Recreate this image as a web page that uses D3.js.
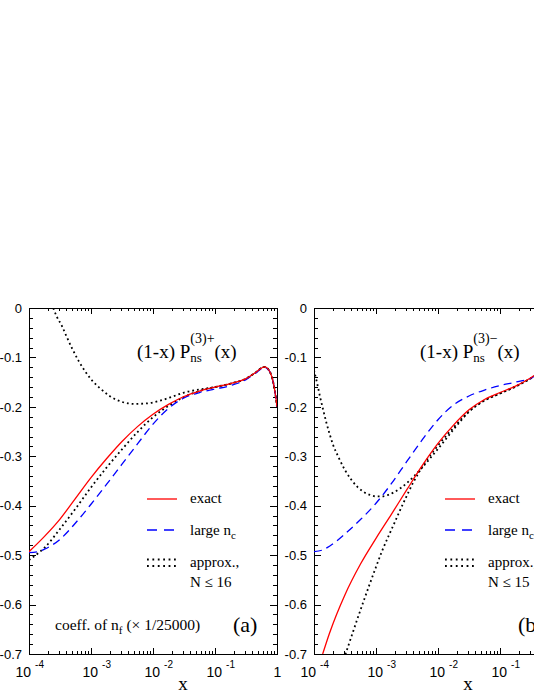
<!DOCTYPE html>
<html>
<head>
<meta charset="utf-8">
<script src="https://cdn.jsdelivr.net/npm/d3@7"></script>
<style>
  body { margin: 0; background: #fff; }
  svg { display: block; font-family: "Liberation Serif", "Times New Roman", serif; }
</style>
</head>
<body>
<div id="chart"></div>
<script>
// values; x given as log10(x)

// panel (a): P_ns^(3)+
const aExactLx = [-4, -3.75, -3.5, -3.25, -3, -2.75, -2.5, -2.25, -2, -1.75, -1.5, -1.25, -1, -0.75, -0.5, -0.35, -0.2, -0.12, -0.06, -0.02, 0];
const aExact   = [-0.493, -0.462, -0.427, -0.385, -0.343, -0.305, -0.27, -0.24, -0.215, -0.195, -0.179, -0.168, -0.16, -0.153, -0.143, -0.131, -0.119, -0.128, -0.151, -0.18, -0.2];
const aLargeLx = [-4, -3.85, -3.75, -3.5, -3.25, -3, -2.75, -2.5, -2.25, -2, -1.75, -1.5, -1.25, -1, -0.75, -0.5, -0.35, -0.2, -0.12, -0.06, -0.02, 0];
const aLarge   = [-0.495, -0.493, -0.488, -0.468, -0.435, -0.397, -0.357, -0.316, -0.275, -0.235, -0.203, -0.182, -0.171, -0.164, -0.157, -0.145, -0.132, -0.12, -0.128, -0.151, -0.18, -0.2];
const aApproxUpLx = [-3.61, -3.55, -3.47, -3.4, -3.3, -3.2, -3.1, -3, -2.85, -2.7, -2.5, -2.3, -2.1, -1.9, -1.7, -1.5, -1.25, -1, -0.75, -0.5, -0.35, -0.2, -0.12, -0.06, -0.02, 0];
const aApproxUp   = [0, -0.018, -0.036, -0.056, -0.083, -0.107, -0.127, -0.144, -0.163, -0.178, -0.19, -0.194, -0.193, -0.188, -0.18, -0.171, -0.165, -0.16, -0.153, -0.143, -0.131, -0.119, -0.128, -0.151, -0.18, -0.2];
const aApproxLoLx = [-4, -3.85, -3.75, -3.5, -3.25, -3, -2.75, -2.5, -2.25, -2, -1.75, -1.5, -1.25, -1, -0.75, -0.5, -0.35, -0.2, -0.12, -0.06, -0.02, 0];
const aApproxLo   = [-0.51, -0.496, -0.485, -0.447, -0.406, -0.363, -0.323, -0.286, -0.251, -0.221, -0.198, -0.18, -0.168, -0.16, -0.153, -0.143, -0.131, -0.119, -0.128, -0.151, -0.18, -0.2];

// panel (b): P_ns^(3)-
const bExactLx = [-3.86, -3.75, -3.5, -3.25, -3, -2.75, -2.5, -2.25, -2, -1.75, -1.5, -1.25, -1, -0.75, -0.5, -0.3];
const bExact   = [-0.7, -0.658, -0.58, -0.518, -0.466, -0.417, -0.367, -0.318, -0.274, -0.237, -0.206, -0.185, -0.171, -0.158, -0.141, -0.125];
const bLargeLx = [-4, -3.85, -3.75, -3.5, -3.25, -3, -2.75, -2.5, -2.25, -2, -1.75, -1.5, -1.25, -1, -0.75, -0.5, -0.3];
const bLarge   = [-0.493, -0.489, -0.482, -0.457, -0.428, -0.395, -0.355, -0.31, -0.266, -0.226, -0.196, -0.178, -0.166, -0.157, -0.15, -0.142, -0.126];
const bApproxUpLx = [-4, -3.95, -3.9, -3.85, -3.8, -3.75, -3.7, -3.6, -3.5, -3.4, -3.3, -3.2, -3.1, -3, -2.9, -2.8, -2.7, -2.6, -2.5, -2.4, -2.3, -2.2, -2.1, -2, -1.75, -1.5, -1.25, -1, -0.75, -0.5, -0.3];
const bApproxUp   = [-0.126, -0.152, -0.181, -0.207, -0.232, -0.254, -0.274, -0.303, -0.328, -0.347, -0.362, -0.372, -0.378, -0.381, -0.381, -0.378, -0.372, -0.364, -0.354, -0.342, -0.329, -0.315, -0.3, -0.285, -0.246, -0.21, -0.187, -0.173, -0.159, -0.142, -0.126];
const bApproxLoLx = [-3.52, -3.5, -3.4, -3.3, -3.2, -3.1, -3, -2.9, -2.8, -2.7, -2.6, -2.5, -2.4, -2.3, -2.2, -2.1, -2, -1.75, -1.5, -1.25, -1, -0.75, -0.5, -0.3];
const bApproxLo   = [-0.71, -0.703, -0.666, -0.629, -0.593, -0.558, -0.524, -0.491, -0.462, -0.434, -0.406, -0.379, -0.353, -0.331, -0.311, -0.294, -0.278, -0.242, -0.209, -0.187, -0.173, -0.159, -0.142, -0.126];

const xMajor = [1e-4, 1e-3, 1e-2, 1e-1, 1];
const xMajorExp = ["-4", "-3", "-2", "-1", null];
const yMajor = [0, -0.1, -0.2, -0.3, -0.4, -0.5, -0.6, -0.7];

const width = 534, height = 692;
const panelW = 248, plotTop = 308, plotBottom = 654;

const svg = d3.select("#chart").append("svg")
  .attr("width", width)
  .attr("height", height);

const zip = (lx, v) => lx.map((d, i) => [d, v[i]]);

const drawPanel = (opt) => {
  const left = opt.left;
  const x = d3.scaleLog().domain([1e-4, 1]).range([left, left + panelW]);
  const y = d3.scaleLinear().domain([-0.7, 0]).range([plotBottom, plotTop]);

  const g = svg.append("g");

  // minor ticks
  const xMinor = [];
  for (let e = -4; e < 0; e++) {
    for (let k = 2; k <= 9; k++) xMinor.push(k * Math.pow(10, e));
  }
  const yMinor = d3.range(0, 36).map(i => -i * 0.02).filter(v => Math.abs(v * 10 - Math.round(v * 10)) > 1e-6);

  const axisGroup = (axis, tx, ty) => g.append("g")
    .attr("transform", `translate(${tx},${ty})`)
    .call(axis)
    .call(s => s.select(".domain").remove())
    .call(s => s.selectAll("line").attr("stroke", "#000").attr("shape-rendering", "crispEdges"));

  axisGroup(d3.axisBottom(x).tickValues(xMinor).tickSize(-3).tickSizeOuter(0).tickFormat(""), 0, plotBottom);
  axisGroup(d3.axisTop(x).tickValues(xMinor).tickSize(-3).tickSizeOuter(0).tickFormat(""), 0, plotTop);
  axisGroup(d3.axisTop(x).tickValues(xMajor).tickSize(-6).tickSizeOuter(0).tickFormat(""), 0, plotTop);
  axisGroup(d3.axisLeft(y).tickValues(yMinor).tickSize(-4).tickSizeOuter(0).tickFormat(""), left, 0);
  axisGroup(d3.axisRight(y).tickValues(yMinor).tickSize(-4).tickSizeOuter(0).tickFormat(""), left + panelW, 0);
  axisGroup(d3.axisRight(y).tickValues(yMajor).tickSize(-7).tickSizeOuter(0).tickFormat(""), left + panelW, 0);

  // y labels
  axisGroup(d3.axisLeft(y).tickValues(yMajor).tickSize(-7).tickSizeOuter(0).tickPadding(7)
      .tickFormat(d => d === 0 ? "0" : d.toFixed(1)), left, 0)
    .call(s => s.selectAll("text").attr("font-size", 13).attr("font-family", null).attr("fill", "#000"));

  // x labels as 10^n
  axisGroup(d3.axisBottom(x).tickValues(xMajor).tickSize(-6).tickSizeOuter(0).tickFormat(""), 0, plotBottom)
    .call(s => s.selectAll(".tick text").remove())
    .call(s => s.selectAll(".tick").each(function (d, i) {
      const t = d3.select(this).append("text")
        .attr("fill", "#000")
        .attr("font-size", 14)
        .attr("y", 23);
      if (xMajorExp[i] === null) {
        t.attr("text-anchor", "middle").attr("x", 0).text("1");
      } else {
        t.attr("text-anchor", "start").attr("x", i === 0 ? -14 : -9).text("10");
        t.append("tspan").attr("dx", 4).attr("dy", -9).attr("font-size", 10).text(xMajorExp[i]);
      }
    }));

  // frame
  g.append("rect")
    .attr("x", left).attr("y", plotTop)
    .attr("width", panelW).attr("height", plotBottom - plotTop)
    .attr("fill", "none").attr("stroke", "#000").attr("stroke-width", 1)
    .attr("shape-rendering", "crispEdges");

  g.append("text")
    .attr("x", left + 154).attr("y", 690)
    .attr("text-anchor", "middle").attr("font-size", 19)
    .text("x");

  // curves
  const clipId = "clip-" + opt.name;
  svg.append("clipPath").attr("id", clipId)
    .append("rect").attr("x", left).attr("y", plotTop).attr("width", panelW).attr("height", plotBottom - plotTop);

  const line = d3.line()
    .x(d => x(Math.pow(10, d[0])))
    .y(d => y(d[1]))
    .curve(d3.curveMonotoneX);

  const curves = g.append("g").attr("clip-path", `url(#${clipId})`);
  const styles = {
    exact: { stroke: "#ff0000", dash: null },
    large: { stroke: "#0000ff", dash: "8,5" },
    approx: { stroke: "#000", dash: "1.8,3" }
  };
  opt.series.forEach(s => {
    const st = styles[s.kind];
    curves.append("path")
      .datum(zip(s.lx, s.v))
      .attr("fill", "none")
      .attr("stroke", st.stroke)
      .attr("stroke-width", s.kind === "approx" ? 1.8 : 1.3)
      .attr("stroke-dasharray", st.dash)
      .attr("d", line);
  });

  // title
  const t = g.append("text")
    .attr("x", left + opt.titleDx).attr("y", 358)
    .attr("font-size", 19);
  t.append("tspan").text("(1-x) P");
  const pEnd = t.node().getComputedTextLength();
  t.append("tspan").attr("font-size", 13).attr("dy", 4).text("ns");
  const sup = g.append("text")
    .attr("x", left + opt.titleDx + pEnd).attr("y", 343)
    .attr("font-size", 14)
    .text(opt.sup);
  const supW = sup.node().getComputedTextLength();
  g.append("text")
    .attr("x", left + opt.titleDx + pEnd + supW).attr("y", 358)
    .attr("font-size", 19)
    .text("(x)");

  // legend
  const lx = left + opt.legendDx;
  g.append("line").attr("x1", lx).attr("x2", lx + 30).attr("y1", 499).attr("y2", 499)
    .attr("stroke", styles.exact.stroke).attr("stroke-width", 1.3);
  g.append("line").attr("x1", lx).attr("x2", lx + 30).attr("y1", 530).attr("y2", 530)
    .attr("stroke", styles.large.stroke).attr("stroke-width", 1.3).attr("stroke-dasharray", "10,7");
  [559.5, 566].forEach(yy => {
    g.append("line").attr("x1", lx).attr("x2", lx + 32).attr("y1", yy).attr("y2", yy)
      .attr("stroke", "#000").attr("stroke-width", 1.8).attr("stroke-dasharray", "1.8,3.6");
  });
  const tx = lx + 43;
  g.append("text").attr("x", tx).attr("y", 503).attr("font-size", 15).text("exact");
  const lg = g.append("text").attr("x", tx).attr("y", 535).attr("font-size", 15);
  lg.append("tspan").text("large n");
  lg.append("tspan").attr("font-size", 11).attr("dy", 4).text("c");
  g.append("text").attr("x", tx).attr("y", 567).attr("font-size", 15).text("approx.,");
  g.append("text").attr("x", tx).attr("y", 587).attr("font-size", 15).text(opt.nMax);

  if (opt.coeff) {
    const c = g.append("text").attr("x", left + 26).attr("y", 630).attr("font-size", 15.5);
    c.append("tspan").text("coeff. of n");
    c.append("tspan").attr("font-size", 11).attr("dy", 4).text("f");
    c.append("tspan").attr("dy", -4).text(" (\u00d7 1/25000)");
  }
  g.append("text").attr("x", left + 204).attr("y", 632).attr("font-size", 22).text(opt.tag);
};

drawPanel({
  name: "a", left: 29, titleDx: 108, legendDx: 118, sup: "(3)+", nMax: "N \u2264 16", coeff: true, tag: "(a)",
  series: [
    { kind: "approx", lx: aApproxUpLx, v: aApproxUp },
    { kind: "approx", lx: aApproxLoLx, v: aApproxLo },
    { kind: "large", lx: aLargeLx, v: aLarge },
    { kind: "exact", lx: aExactLx, v: aExact }
  ]
});

drawPanel({
  name: "b", left: 314, titleDx: 106, legendDx: 131, sup: "(3)\u2212", nMax: "N \u2264 15", coeff: false, tag: "(b)",
  series: [
    { kind: "approx", lx: bApproxUpLx, v: bApproxUp },
    { kind: "approx", lx: bApproxLoLx, v: bApproxLo },
    { kind: "large", lx: bLargeLx, v: bLarge },
    { kind: "exact", lx: bExactLx, v: bExact }
  ]
});
</script>
</body>
</html>
